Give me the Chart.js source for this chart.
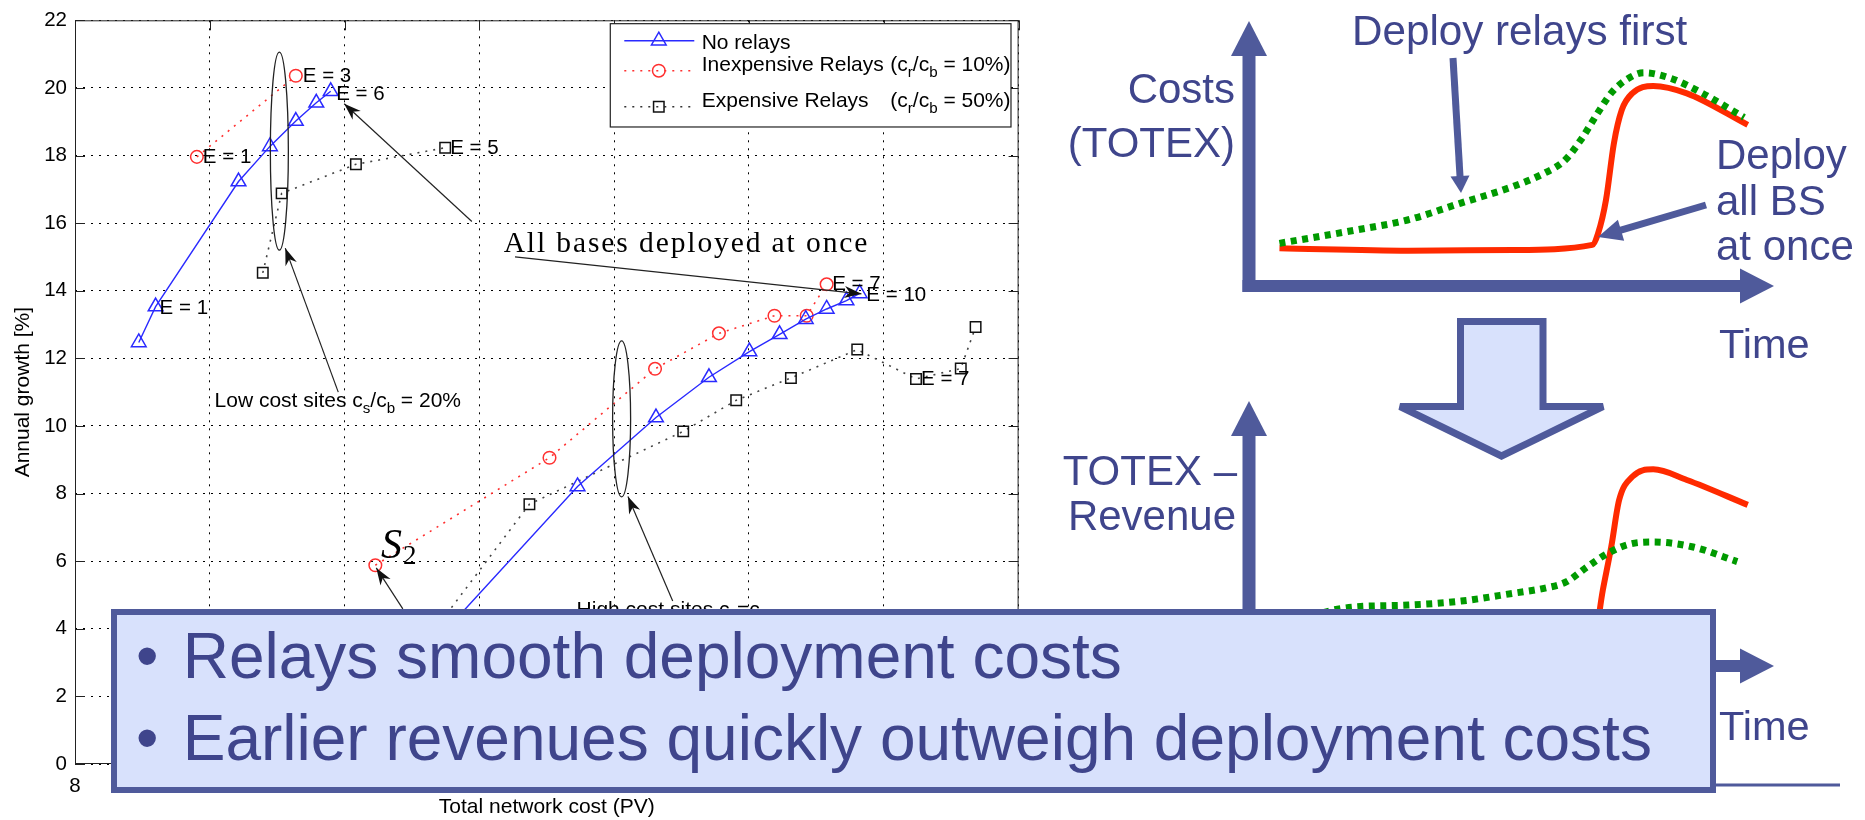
<!DOCTYPE html>
<html>
<head>
<meta charset="utf-8">
<script src="https://cdn.jsdelivr.net/npm/chart.js@4.4.1/dist/chart.umd.min.js"></script>
<style>
html, body { margin: 0; padding: 0; background: #fff; }
body { width: 1865px; height: 820px; position: relative; overflow: hidden; }
canvas { position: absolute; }
#growth { left: 0; top: 0; }
#costTop { left: 1220px; top: 0; }
#costBottom { left: 1220px; top: 390px; }
#slide { position: absolute; left: 0; top: 0; }
</style>
</head>
<body>
<canvas id="growth" width="1040" height="820"></canvas>
<canvas id="costTop" width="610" height="310"></canvas>
<canvas id="costBottom" width="610" height="300"></canvas>
<svg id="slide" width="1865" height="820"></svg>
<script>
const FONT = '"Liberation Sans", Arial, Helvetica, sans-serif';
const SERIF = '"Liberation Serif", "Times New Roman", serif';
Chart.defaults.font.family = FONT;

// ---- left plot: annual growth vs total network cost ----
const costTicks = [8, 9, 10, 11, 12, 13, 14, 15];
const growthTicks = [0, 2, 4, 6, 8, 10, 12, 14, 16, 18, 20, 22];
const seriesNames = ['No relays', 'Inexpensive Relays', 'Expensive Relays'];

// low cost sites (cs/cb = 20%)
const noRelaysLowCost = [8.473, 8.598, 9.213, 9.446, 9.638, 9.790, 9.897];
const noRelaysLowGrowth = [12.47, 13.53, 17.23, 18.27, 19.02, 19.56, 19.90];
const cheapRelaysLowCost = [8.904, 9.638];
const cheapRelaysLowGrowth = [17.96, 20.36];
const dearRelaysLowCost = [9.393, 9.533, 10.084, 10.746];
const dearRelaysLowGrowth = [14.53, 16.88, 17.74, 18.23];

// high cost sites (cs = cb)
const noRelaysHighCost = [10.45, 11.728, 12.31, 12.703, 13.003, 13.227, 13.421, 13.576, 13.723, 13.821];
const noRelaysHighGrowth = [2.65, 8.21, 10.25, 11.44, 12.20, 12.71, 13.16, 13.46, 13.71, 13.92];
const cheapRelaysHighCost = [10.228, 11.52, 12.303, 12.777, 13.189, 13.428, 13.576];
const cheapRelaysHighGrowth = [5.88, 9.06, 11.69, 12.74, 13.26, 13.26, 14.19];
const dearRelaysHighCost = [10.65, 11.371, 12.512, 12.905, 13.311, 13.803, 14.239, 14.571, 14.681];
const dearRelaysHighGrowth = [3.87, 7.685, 9.84, 10.76, 11.42, 12.26, 11.39, 11.70, 12.93];

// ---- right sketches (time vs cost), arbitrary units 0..10 ----
const timeRelaysFirst = [0.58, 2.03, 3.02, 4.02, 5.02, 5.62, 6.02, 6.32, 6.63, 6.92, 7.23, 7.52, 8.03, 8.63, 9.43];
const costRelaysFirst = [1.61, 2.11, 2.49, 3.12, 3.75, 4.25, 4.75, 5.51, 6.49, 7.33, 7.84, 8.05, 7.84, 7.28, 6.36];
const timeAllAtOnce = [0.58, 3.04, 5.04, 6.54, 6.65, 6.80, 6.95, 7.10, 7.30, 7.70, 8.34, 9.50];
const costAllAtOnce = [1.42, 1.33, 1.36, 1.55, 1.99, 3.25, 5.38, 6.64, 7.27, 7.55, 7.27, 6.08];
const timeNetRelaysFirst = [0.58, 1.83, 3.03, 4.04, 5.05, 5.64, 6.04, 6.44, 6.84, 7.25, 7.70, 8.46, 9.30];
const netRelaysFirst = [1.5, 2.19, 2.30, 2.45, 2.75, 2.94, 3.17, 3.74, 4.26, 4.60, 4.68, 4.49, 3.94];
const timeNetAllAtOnce = [0.58, 3.04, 5.04, 6.54, 6.74, 6.90, 7.05, 7.30, 7.70, 8.34, 9.50];
const netAllAtOnce = [0.6, 0.5, 0.5, 0.7, 2.87, 4.50, 6.26, 7.14, 7.42, 7.02, 6.08];

const zip = (xs, ys) => xs.map((x, i) => ({ x: x, y: ys[i] }));

const BLUE = '#2a2aff', RED = '#ff3030', GREY = '#444';
const styles = [
  { color: BLUE, dash: [], marker: 'triangle', r: 8.5, width: 1.4 },
  { color: RED, dash: [2, 6], marker: 'circle', r: 6.3, width: 1.6 },
  { color: GREY, dash: [2, 6], marker: 'rect', r: 7.4, width: 1.6 }
];

function series(xs, ys, k) {
  const s = styles[k];
  return {
    data: zip(xs, ys), borderColor: s.color, borderWidth: s.width, borderDash: s.dash,
    pointStyle: s.marker, pointRadius: s.r, pointBorderColor: k === 2 ? '#111' : s.color,
    pointBackgroundColor: 'rgba(0,0,0,0)', pointBorderWidth: 1.5, tension: 0, fill: false
  };
}

const eLabels = [
  { ds: 0, i: 1, text: 'E = 1', dx: 4, dy: 2 },
  { ds: 0, i: 6, text: 'E = 6', dx: 5.5, dy: 3 },
  { ds: 2, i: 0, text: 'E = 1', dx: 6, dy: 0 },
  { ds: 2, i: 1, text: 'E = 3', dx: 7, dy: 0.5 },
  { ds: 4, i: 3, text: 'E = 5', dx: 5, dy: 1 },
  { ds: 3, i: 6, text: 'E = 7', dx: 5.5, dy: 0 },
  { ds: 1, i: 9, text: 'E = 10', dx: 6.7, dy: 2 },
  { ds: 5, i: 6, text: 'E = 7', dx: 5, dy: 0 }
];

const ellipses = [
  { x: 9.516, y: 18.13, rx: 9, ry: 99 },
  { x: 12.055, y: 10.21, rx: 9, ry: 78 }
];
const pointers = [
  { from: [9.953, 11.0], to: [9.560, 15.26] },
  { from: [10.944, 16.05], to: [9.997, 19.53] },
  { from: [11.264, 15.0], to: [13.834, 13.91] },
  { from: [10.432, 4.59], to: [10.235, 5.80] },
  { from: [12.434, 4.82], to: [12.102, 7.91] }
];

function drawMarker(ctx, kind, x, y, r) {
  ctx.beginPath();
  if (kind === 'triangle') {
    ctx.moveTo(x, y - r);
    ctx.lineTo(x + r * 0.866, y + r / 2);
    ctx.lineTo(x - r * 0.866, y + r / 2);
    ctx.closePath();
  } else if (kind === 'circle') {
    ctx.arc(x, y, r, 0, Math.PI * 2);
  } else {
    const h = r * Math.SQRT1_2;
    ctx.rect(x - h, y - h, 2 * h, 2 * h);
  }
  ctx.stroke();
}

function richText(ctx, parts, x, y, size, family) {
  let cx = x;
  parts.forEach(p => {
    const sz = p.sub ? size * 0.72 : size;
    ctx.font = sz + 'px ' + family;
    ctx.fillText(p.t, cx, y + (p.sub ? size * 0.3 : 0));
    cx += ctx.measureText(p.t).width;
  });
}

function arrowHead(ctx, x1, y1, x2, y2, len, half) {
  const a = Math.atan2(y2 - y1, x2 - x1);
  const c = Math.cos(a), s = Math.sin(a);
  ctx.beginPath();
  ctx.moveTo(x2, y2);
  ctx.lineTo(x2 - len * c + half * s, y2 - len * s - half * c);
  ctx.lineTo(x2 - len * 0.7 * c, y2 - len * 0.7 * s);
  ctx.lineTo(x2 - len * c - half * s, y2 - len * s + half * c);
  ctx.closePath();
  ctx.fill();
}

const framePlugin = {
  id: 'frame',
  beforeDatasetsDraw(chart) {
    const { ctx, chartArea: a, scales } = chart;
    ctx.save();
    ctx.strokeStyle = '#222';
    ctx.lineWidth = 1;
    ctx.strokeRect(a.left + 0.5, a.top + 0.5, a.right - a.left - 1, a.bottom - a.top - 1);
    ctx.beginPath();
    growthTicks.forEach(v => {
      const y = Math.round(scales.y.getPixelForValue(v)) + 0.5;
      ctx.moveTo(a.left, y); ctx.lineTo(a.left + 10, y);
      ctx.moveTo(a.right - 10, y); ctx.lineTo(a.right, y);
    });
    costTicks.forEach(v => {
      const x = Math.round(scales.x.getPixelForValue(v)) + 0.5;
      ctx.moveTo(x, a.bottom); ctx.lineTo(x, a.bottom - 10);
      ctx.moveTo(x, a.top); ctx.lineTo(x, a.top + 10);
    });
    ctx.stroke();
    ctx.restore();
  }
};

const notesPlugin = {
  id: 'notes',
  afterDatasetsDraw(chart) {
    const { ctx, scales } = chart;
    const X = v => scales.x.getPixelForValue(v);
    const Y = v => scales.y.getPixelForValue(v);
    ctx.save();
    ctx.strokeStyle = '#222';
    ctx.fillStyle = '#111';
    ctx.lineWidth = 1.3;
    ellipses.forEach(e => {
      ctx.beginPath();
      ctx.ellipse(X(e.x), Y(e.y), e.rx, e.ry, 0, 0, Math.PI * 2);
      ctx.stroke();
    });
    ctx.lineWidth = 1.2;
    pointers.forEach(p => {
      const x1 = X(p.from[0]), y1 = Y(p.from[1]), x2 = X(p.to[0]), y2 = Y(p.to[1]);
      ctx.beginPath(); ctx.moveTo(x1, y1); ctx.lineTo(x2, y2); ctx.stroke();
      arrowHead(ctx, x1, y1, x2, y2, 17, 6);
    });

    ctx.fillStyle = '#000';
    ctx.textBaseline = 'alphabetic';
    ctx.textAlign = 'left';
    richText(ctx, [{ t: 'Low cost sites c' }, { t: 's', sub: 1 }, { t: '/c' }, { t: 'b', sub: 1 }, { t: ' = 20%' }],
      X(9.035), Y(10.56), 21, FONT);
    richText(ctx, [{ t: 'High cost sites c' }, { t: 's', sub: 1 }, { t: '=c' }, { t: 'b', sub: 1 }],
      X(11.721), Y(4.38), 21, FONT);

    ctx.font = '29.5px ' + SERIF;
    ctx.letterSpacing = '1.9px';
    ctx.fillText('All bases deployed at once', X(11.18), Y(15.15));
    ctx.letterSpacing = '0px';

    ctx.font = 'italic 42px ' + SERIF;
    ctx.fillText('S', X(10.27), Y(6.097));
    ctx.font = '27px ' + SERIF;
    ctx.fillText('2', X(10.27) + 22, Y(6.097) + 6.6);

    ctx.font = '20.5px ' + FONT;
    ctx.textBaseline = 'middle';
    eLabels.forEach(l => {
      const p = chart.getDatasetMeta(l.ds).data[l.i];
      ctx.fillText(l.text, p.x + l.dx, p.y + l.dy);
    });

    // legend box (MATLAB style, inside the axes)
    const lx = X(11.971), ly = Y(21.90), lw = 400.7, lh = 103.3;
    ctx.fillStyle = '#fff';
    ctx.fillRect(lx, ly, lw, lh);
    ctx.strokeStyle = '#222';
    ctx.lineWidth = 1.2;
    ctx.strokeRect(lx, ly, lw, lh);
    const rows = [17, 47, 83];
    const bases = [25, 47.5, 83.3];
    const subs = [null, '10%)', '50%)'];
    ctx.textBaseline = 'alphabetic';
    rows.forEach((ry, k) => {
      const s = styles[k];
      ctx.strokeStyle = k === 2 ? '#333' : s.color;
      ctx.lineWidth = s.width;
      ctx.setLineDash(s.dash);
      ctx.beginPath(); ctx.moveTo(lx + 14, ly + ry); ctx.lineTo(lx + 84, ly + ry); ctx.stroke();
      ctx.setLineDash([]);
      ctx.strokeStyle = k === 2 ? '#111' : s.color;
      ctx.lineWidth = 1.5;
      drawMarker(ctx, s.marker, lx + 48.5, ly + ry, s.r);
      ctx.fillStyle = '#000';
      ctx.font = '21px ' + FONT;
      ctx.fillText(seriesNames[k], lx + 91.4, ly + bases[k]);
      if (subs[k]) {
        richText(ctx, [{ t: '(c' }, { t: 'r', sub: 1 }, { t: '/c' }, { t: 'b', sub: 1 }, { t: ' = ' + subs[k] }],
          lx + 280, ly + bases[k], 21, FONT);
      }
    });
    ctx.restore();
  }
};

new Chart(document.getElementById('growth'), {
  type: 'line',
  data: {
    datasets: [
      series(noRelaysLowCost, noRelaysLowGrowth, 0),
      series(noRelaysHighCost, noRelaysHighGrowth, 0),
      series(cheapRelaysLowCost, cheapRelaysLowGrowth, 1),
      series(cheapRelaysHighCost, cheapRelaysHighGrowth, 1),
      series(dearRelaysLowCost, dearRelaysLowGrowth, 2),
      series(dearRelaysHighCost, dearRelaysHighGrowth, 2)
    ]
  },
  options: {
    responsive: false,
    animation: false,
    devicePixelRatio: 1,
    layout: { padding: { top: 17, right: 15, left: 0, bottom: 0 } },
    plugins: { legend: { display: false }, tooltip: { enabled: false } },
    scales: {
      x: {
        type: 'linear', min: 8, max: 15,
        afterBuildTicks: s => { s.ticks = costTicks.map(v => ({ value: v })); },
        afterFit: s => { s.height = 56; },
        grid: { color: '#000', lineWidth: 1, drawTicks: false },
        border: { display: false, dash: [2, 6] },
        ticks: { color: '#000', font: { size: 20.5 }, padding: 10, maxRotation: 0, autoSkip: false },
        title: { display: true, text: 'Total network cost (PV)', color: '#000', font: { size: 21 }, padding: { top: 0, bottom: 0 } }
      },
      y: {
        type: 'linear', min: 0, max: 22,
        afterBuildTicks: s => { s.ticks = growthTicks.map(v => ({ value: v })); },
        afterFit: s => { s.width = 75; },
        grid: { color: '#000', lineWidth: 1, drawTicks: false },
        border: { display: false, dash: [2, 6] },
        ticks: { color: '#000', font: { size: 20.5 }, padding: 8 },
        title: { display: true, text: 'Annual growth [%]', color: '#000', font: { size: 21 }, padding: { top: 11, bottom: 0 } }
      }
    }
  },
  plugins: [framePlugin, notesPlugin]
});

// ---- right sketches ----
const SLATE = '#4f5a9b';
const INK = '#3f458c';
const GREEN = '#009a00', ORANGE = '#ff2a00';

const axisArrows = {
  id: 'axisArrows',
  beforeDatasetsDraw(chart) {
    const { ctx, chartArea: a } = chart;
    ctx.save();
    ctx.fillStyle = SLATE;
    ctx.fillRect(a.left - 6.5, a.top + 34, 13, a.bottom - a.top - 34 + 6);
    ctx.beginPath();
    ctx.moveTo(a.left, a.top); ctx.lineTo(a.left + 18, a.top + 35); ctx.lineTo(a.left - 18, a.top + 35);
    ctx.closePath(); ctx.fill();
    ctx.fillRect(a.left - 6.5, a.bottom - 6, a.right - 34 - a.left + 6.5, 12);
    ctx.beginPath();
    ctx.moveTo(a.right, a.bottom); ctx.lineTo(a.right - 34, a.bottom - 17.5); ctx.lineTo(a.right - 34, a.bottom + 17.5);
    ctx.closePath(); ctx.fill();
    ctx.restore();
  }
};

function sketch(id, pad, relaysX, relaysY, onceX, onceY) {
  return new Chart(document.getElementById(id), {
    type: 'line',
    data: {
      datasets: [
        { data: zip(relaysX, relaysY), borderColor: GREEN, borderWidth: 7, borderDash: [6, 5.5],
          borderCapStyle: 'butt', pointRadius: 0, cubicInterpolationMode: 'monotone', fill: false },
        { data: zip(onceX, onceY), borderColor: ORANGE, borderWidth: 6, pointRadius: 0,
          cubicInterpolationMode: 'monotone', fill: false }
      ]
    },
    options: {
      responsive: false, animation: false, devicePixelRatio: 1,
      layout: { padding: pad },
      plugins: { legend: { display: false }, tooltip: { enabled: false } },
      scales: {
        x: { type: 'linear', min: 0, max: 10, display: false },
        y: { type: 'linear', min: 0, max: 10, display: false }
      }
    },
    plugins: [axisArrows]
  });
}

sketch('costTop', { left: 29, top: 21, right: 56, bottom: 24 }, timeRelaysFirst, costRelaysFirst, timeAllAtOnce, costAllAtOnce);
sketch('costBottom', { left: 29, top: 11, right: 56, bottom: 24 }, timeNetRelaysFirst, netRelaysFirst, timeNetAllAtOnce, netAllAtOnce);

// ---- slide overlay: arrows, labels, bullet box ----
function svgArrow(x1, y1, x2, y2, w, hl, hw) {
  const L = Math.hypot(x2 - x1, y2 - y1), ux = (x2 - x1) / L, uy = (y2 - y1) / L;
  const bx = x2 - ux * hl, by = y2 - uy * hl;
  return '<line x1="' + x1 + '" y1="' + y1 + '" x2="' + (bx + ux) + '" y2="' + (by + uy) + '" stroke="' + SLATE + '" stroke-width="' + w + '"/>' +
    '<polygon points="' + x2 + ',' + y2 + ' ' + (bx - uy * hw) + ',' + (by + ux * hw) + ' ' + (bx + uy * hw) + ',' + (by - ux * hw) + '" fill="' + SLATE + '"/>';
}
function txt(x, y, s, anchor, size, color) {
  return '<text x="' + x + '" y="' + y + '" text-anchor="' + anchor + '" font-size="' + size + '" fill="' + color + '">' + s + '</text>';
}

let svg = '<g font-family=\'' + FONT + '\'>';
svg += '<polygon points="1460.5,321.5 1543,321.5 1543,406.5 1603,406.5 1501.5,456 1400,406.5 1460.5,406.5" fill="#d8e1fc" stroke="' + SLATE + '" stroke-width="7"/>';
svg += svgArrow(1453, 58, 1461, 193, 7, 17, 9.5);
svg += svgArrow(1706, 205, 1598, 237, 7, 24, 11);
svg += txt(1352, 45, 'Deploy relays first', 'start', 42.2, INK);
svg += txt(1235, 102.5, 'Costs', 'end', 42, INK);
svg += txt(1235, 156.5, '(TOTEX)', 'end', 42, INK);
svg += txt(1716, 168.5, 'Deploy', 'start', 42, INK);
svg += txt(1716, 215, 'all BS', 'start', 42, INK);
svg += txt(1716, 260, 'at once', 'start', 42, INK);
svg += txt(1719, 358, 'Time', 'start', 41.5, INK);
svg += txt(1237, 484.5, 'TOTEX –', 'end', 42, INK);
svg += txt(1236, 529.5, 'Revenue', 'end', 42, INK);
svg += txt(1719, 740, 'Time', 'start', 41.5, INK);
svg += '<rect x="1700" y="783.5" width="140" height="3" fill="' + SLATE + '"/>';
svg += '<rect x="114" y="612" width="1599" height="178" fill="#d8e1fc" stroke="' + SLATE + '" stroke-width="6"/>';
svg += txt(136, 678, '•', 'start', 64, INK) + txt(182.7, 678, 'Relays smooth deployment costs', 'start', 64, INK);
svg += txt(136, 760, '•', 'start', 64, INK) + txt(182.7, 760, 'Earlier revenues quickly outweigh deployment costs', 'start', 64, INK);
svg += '</g>';
document.getElementById('slide').innerHTML = svg;
</script>
</body>
</html>
